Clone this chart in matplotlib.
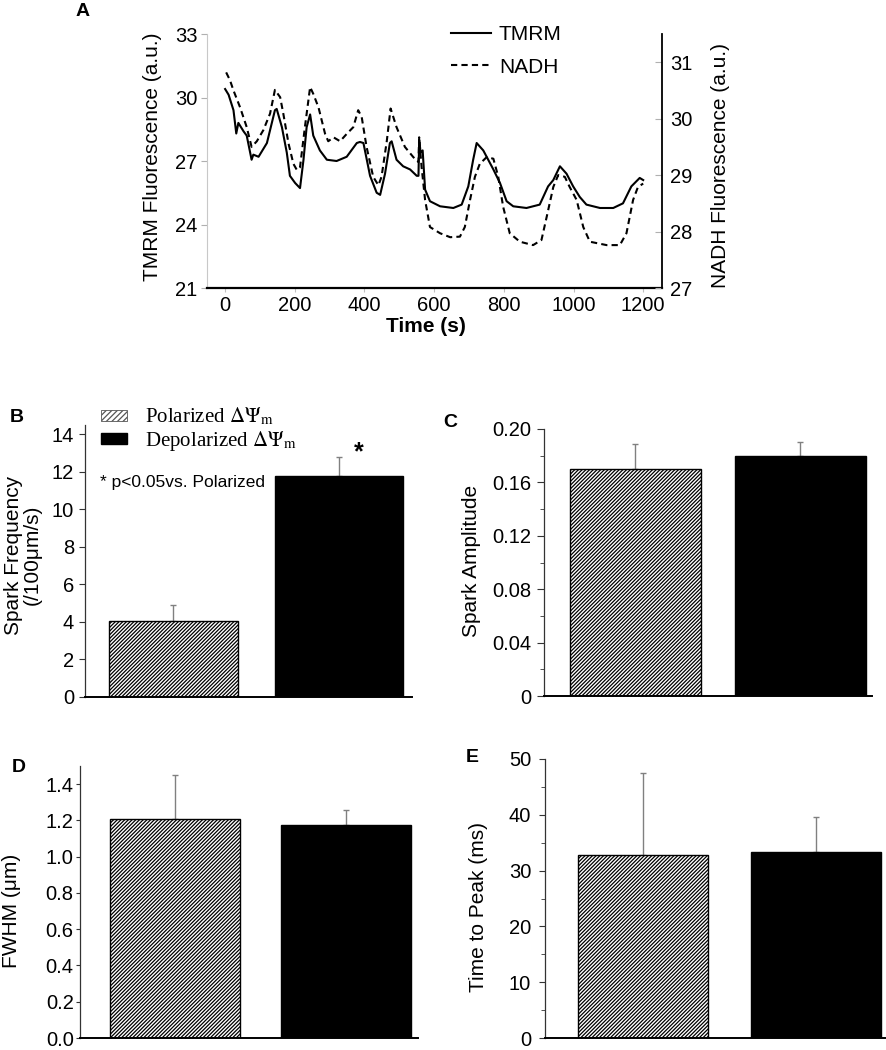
import numpy as np
import matplotlib.pyplot as plt
from matplotlib.patches import Patch
from matplotlib.lines import Line2D
from matplotlib.ticker import MultipleLocator

plt.rcParams['font.family'] = ['Liberation Sans', 'DejaVu Sans']
plt.rcParams['mathtext.fontset'] = 'stix'
plt.rcParams['hatch.linewidth'] = 0.9

# Panel A: time courses
tmrm_t = [0, 10, 24, 32, 38, 53, 62, 76, 81, 96, 120, 143, 148, 163, 177, 186, 201, 215, 225, 234,
          244, 253, 272, 292, 320, 349, 378, 387, 397, 416, 435, 445, 459, 473, 478, 492, 511, 531,
          550, 555, 557, 561, 567, 574, 588, 617, 655, 679, 698, 712, 722, 741, 770, 789, 808, 827,
          865, 903, 927, 942, 961, 980, 999, 1018, 1037, 1076, 1114, 1142, 1166, 1190, 1200]
tmrm_val = [30.4, 30.13, 29.4, 28.3, 28.8, 28.4, 28.2, 27.06, 27.3, 27.2, 27.85, 29.4, 29.46, 28.6,
            27.4, 26.3, 25.96, 25.72, 27.06, 28.6, 29.2, 28.2, 27.5, 27.06, 27.0, 27.2, 27.85, 27.9,
            27.85, 26.3, 25.5, 25.4, 26.4, 27.85, 27.93, 27.06, 26.75, 26.6, 26.3, 26.3, 28.0, 27.4,
            27.5, 25.65, 25.1, 24.86, 24.78, 24.94, 25.8, 27.06, 27.85, 27.5, 26.6, 25.96, 25.1,
            24.86, 24.78, 24.94, 25.8, 26.1, 26.75, 26.4, 25.8, 25.3, 24.94, 24.78, 24.78, 25.0,
            25.8, 26.2, 26.1]
nadh_t = [3, 14, 24, 43, 62, 76, 91, 110, 129, 143, 158, 167, 182, 196, 206, 215, 229, 244, 253, 268,
          287, 296, 311, 330, 349, 368, 382, 392, 406, 425, 440, 449, 464, 475, 492, 516, 540, 555,
          557, 564, 574, 588, 617, 646, 674, 688, 703, 717, 731, 751, 770, 784, 798, 817, 846, 884,
          908, 923, 942, 956, 975, 989, 1009, 1028, 1047, 1095, 1133, 1152, 1171, 1185, 1200]
nadh_val = [30.82, 30.68, 30.5, 30.2, 29.85, 29.5, 29.6, 29.8, 30.09, 30.51, 30.38, 30.09, 29.56,
            29.2, 29.09, 29.14, 29.85, 30.56, 30.44, 30.2, 29.73, 29.6, 29.67, 29.6, 29.73, 29.85,
            30.15, 30.03, 29.5, 28.97, 28.82, 28.97, 29.6, 30.18, 29.85, 29.5, 29.32, 29.23, 29.67,
            29.14, 28.56, 28.08, 27.97, 27.9, 27.91, 28.08, 28.56, 28.97, 29.2, 29.32, 29.29, 28.97,
            28.44, 27.97, 27.82, 27.76, 27.85, 28.26, 28.79, 29.0, 28.97, 28.79, 28.56, 28.08, 27.82,
            27.76, 27.76, 27.97, 28.56, 28.79, 28.85]

# Panels B-E: bar data (polarized, depolarized)
groups = ['Polarized', 'Depolarized']
freq_mean = [4.05, 11.8]
freq_err = [0.85, 1.0]
amp_mean = [0.17, 0.18]
amp_err = [0.019, 0.01]
fwhm_mean = [1.21, 1.175]
fwhm_err = [0.24, 0.085]
ttp_mean = [32.8, 33.4]
ttp_err = [14.7, 6.2]

W, H = 886, 1050
fig = plt.figure(figsize=(W / 100, H / 100), dpi=100)


def rect(x0, y0, x1, y1):
    return [x0 / W, 1 - y1 / H, (x1 - x0) / W, (y1 - y0) / H]


def ftext(x, y, s, **kw):
    fig.text(x / W, 1 - y / H, s, ha='center', va='center', **kw)


TICK = 14.5
LAB = 15
HATCH = '/' * 9

# ---------- Panel A ----------
axA = fig.add_axes(rect(207, 34, 662, 288))
axA.plot(tmrm_t, tmrm_val, color='black', lw=1.5)
axA.set_xlim(-52, 1254)
axA.set_ylim(21, 33)
axA.set_yticks([21, 24, 27, 30, 33])
axA.set_xticks(range(0, 1201, 200))
axA.spines['top'].set_visible(False)
axA.spines['right'].set_visible(False)
axA.spines['left'].set_color('#c8c8c8')
axA.spines['bottom'].set_linewidth(1.6)
axA.tick_params(axis='y', colors='#b0b0b0', length=4, pad=3, labelsize=TICK, labelcolor='black')
axA.tick_params(axis='x', colors='#c0c0c0', length=3, pad=3, labelsize=TICK, labelcolor='black')

axA2 = axA.twinx()
axA2.plot(nadh_t, nadh_val, color='black', lw=1.5, ls=(0, (3, 2)))
axA2.set_ylim(27, 31.5)
axA2.set_yticks([27, 28, 29, 30, 31])
for s in ['top', 'left', 'bottom']:
    axA2.spines[s].set_visible(False)
axA2.spines['right'].set_linewidth(1.3)
axA2.tick_params(axis='y', direction='in', colors='#b0b0b0', length=5, pad=6,
                 labelsize=TICK, labelcolor='black')

leg_h = [Line2D([], [], color='black', lw=1.5),
         Line2D([], [], color='black', lw=1.5, ls=(0, (3, 2)))]
fig.legend(leg_h, ['TMRM', 'NADH'], loc='upper left', bbox_to_anchor=(451 / W, 1 - 25 / H),
           frameon=False, fontsize=LAB, handlelength=1.9, handletextpad=0.4,
           labelspacing=0.65, borderpad=0, borderaxespad=0)

ftext(83, 12, 'A', fontsize=14, fontweight='bold')
ftext(426, 326, 'Time (s)', fontsize=LAB, fontweight='bold')
ftext(153, 157, 'TMRM Fluorescence (a.u.)', fontsize=LAB, rotation=90)
ftext(720, 166, 'NADH Fluorescence (a.u.)', fontsize=LAB, rotation=90)


# ---------- bar panels ----------
def bar_panel(box, means, errs, xlim, ylim, width, ticks, minor, fmt, pad, tlen):
    ax = fig.add_axes(rect(*box))
    x = np.arange(len(means))
    ax.errorbar(x, means, yerr=[np.zeros(len(errs)), errs], fmt='none', ecolor='#808080',
                elinewidth=1, capsize=2.5, capthick=1, zorder=1)
    ax.bar(x[0], means[0], width, color='white', edgecolor='black', hatch=HATCH, lw=1, zorder=2)
    ax.bar(x[1], means[1], width, color='black', edgecolor='black', lw=1, zorder=2)
    ax.set_xlim(*xlim)
    ax.set_ylim(*ylim)
    ax.set_xticks([])
    ax.set_yticks(ticks)
    ax.set_yticklabels([fmt(t) for t in ticks])
    if minor:
        ax.yaxis.set_minor_locator(MultipleLocator(minor))
    ax.spines['top'].set_visible(False)
    ax.spines['right'].set_visible(False)
    ax.spines['left'].set_linewidth(0.9)
    ax.spines['left'].set_color('#333333')
    ax.spines['bottom'].set_linewidth(1.4)
    ax.tick_params(axis='y', which='major', length=tlen, pad=pad, labelsize=TICK, color='#333333')
    ax.tick_params(axis='y', which='minor', length=3, color='#333333')
    return ax


axB = bar_panel((85, 425, 412, 697), freq_mean, freq_err, (-0.534, 1.44), (0, 14.5), 0.775,
                list(range(0, 15, 2)), None, lambda t: f'{t:g}', 4, 4)
axC = bar_panel((544, 429, 872, 696), amp_mean, amp_err, (-0.554, 1.434), (0, 0.2), 0.79,
                [0, 0.04, 0.08, 0.12, 0.16, 0.20], 0.02,
                lambda t: '0' if t == 0 else f'{t:.2f}', 4, 5)
axD = bar_panel((80, 766, 418, 1038), fwhm_mean, fwhm_err, (-0.553, 1.42), (0, 1.5), 0.757,
                [0, 0.2, 0.4, 0.6, 0.8, 1.0, 1.2, 1.4], None, lambda t: f'{t:.1f}', 1.5, 3)
axE = bar_panel((545, 759, 885, 1038), ttp_mean, ttp_err, (-0.564, 1.396), (0, 50), 0.75,
                list(range(0, 51, 10)), 5, lambda t: f'{t:g}', 6, 4)

# legend and annotation in B
leg_b = [Patch(facecolor='white', edgecolor='#555555', hatch='//////', lw=0.6),
         Patch(facecolor='black', edgecolor='black')]
fig.legend(leg_b, [r'Polarized $\Delta\Psi_{\mathrm{m}}$', r'Depolarized $\Delta\Psi_{\mathrm{m}}$'],
           loc='upper left', bbox_to_anchor=(101 / W, 1 - 406 / H), frameon=False,
           prop={'family': 'Liberation Serif', 'size': 15}, handlelength=1.25, handleheight=0.45,
           handletextpad=0.85, labelspacing=0.05, borderpad=0, borderaxespad=0)
fig.text(100 / W, 1 - 482 / H, '* p<0.05vs. Polarized', fontsize=12.5, ha='left', va='center')
ftext(359, 452, '*', fontsize=18, fontweight='bold')

ftext(17, 417, 'B', fontsize=14, fontweight='bold')
ftext(450, 423, 'C', fontsize=14, fontweight='bold')
ftext(19, 768, 'D', fontsize=14, fontweight='bold')
ftext(472, 757, 'E', fontsize=14, fontweight='bold')

ftext(23, 555, 'Spark Frequency\n(/100\u03bcm/s)', fontsize=LAB, rotation=90, linespacing=1.0)
ftext(472, 561, 'Spark Amplitude', fontsize=LAB, rotation=90)
ftext(12, 911, 'FWHM (\u03bcm)', fontsize=LAB, rotation=90)
ftext(479, 907, 'Time to Peak (ms)', fontsize=LAB, rotation=90)

fig.savefig('out.png', dpi=100)
